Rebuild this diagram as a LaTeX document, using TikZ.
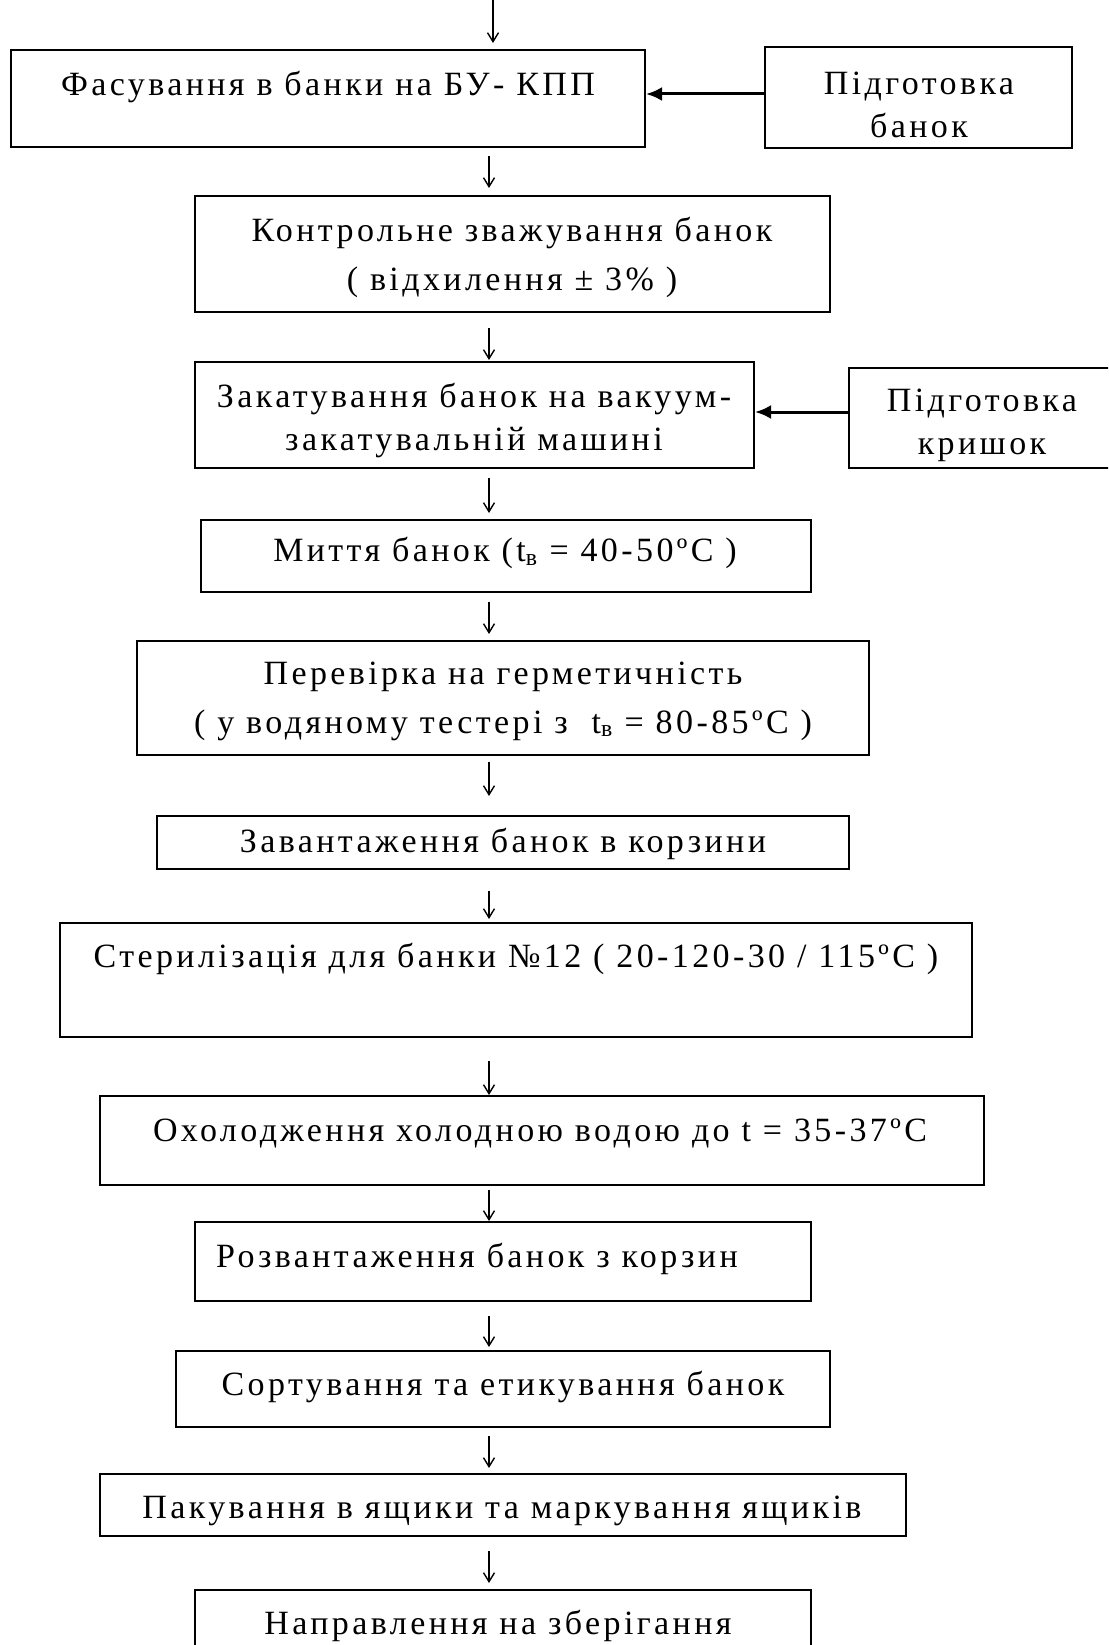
\documentclass[tikz,border=0pt]{standalone}
\usepackage{fontspec}
\setmainfont{Liberation Serif}[LetterSpace=10]
\usetikzlibrary{arrows.meta}

\tikzset{
  box/.style={draw,line width=2pt,inner sep=0pt},
  txt/.style={align=center,inner sep=0pt,font=\fontsize{34}{49}\selectfont},
  tight/.style={font=\fontsize{34}{43}\selectfont},
  flow/.style={-{Straight Barb[length=9pt,width=11pt]},line width=1.4pt},
  feed/.style={-{Latex[length=16pt,width=14pt]},line width=3pt}
}

\begin{document}
\begin{tikzpicture}[x=1pt,y=-1pt]
        \useasboundingbox (0,0) rectangle (1108,1645);
        \clip (0,0) rectangle (1108,1645);

        % main line
        \node[box,minimum width=634,minimum height=97] (b1) at (328,98.5) {};
        \node[box,minimum width=635,minimum height=116] (b2) at (512.5,254) {};
        \node[box,minimum width=559,minimum height=106] (b3) at (474.5,415) {};
        \node[box,minimum width=610,minimum height=72] (b4) at (506,556) {};
        \node[box,minimum width=732,minimum height=114] (b5) at (503,698) {};
        \node[box,minimum width=692,minimum height=53] (b6) at (503,842.5) {};
        \node[box,minimum width=912,minimum height=114] (b7) at (516,980) {};
        \node[box,minimum width=884,minimum height=89] (b8) at (542,1140.5) {};
        \node[box,minimum width=616,minimum height=79] (b9) at (503,1261.5) {};
        \node[box,minimum width=654,minimum height=76] (b10) at (503,1389) {};
        \node[box,minimum width=806,minimum height=62] (b11) at (503,1505) {};
        \node[box,minimum width=616,minimum height=110] (b12) at (503,1645) {};

        % side boxes
        \node[box,minimum width=307,minimum height=101] (sb1) at (918.5,97.5) {};
        \node[box,minimum width=271,minimum height=100] (sb2) at (984.5,418) {};

        \node[txt] (t1) at (328,87) {Фасування в банки на БУ- КПП};
        \node[txt,tight] (ts1) at (919,105) {Підготовка\\банок};
        \node[txt] (t2) at (512,257) {Контрольне зважування банок\\( відхилення ± 3\% )};
        \node[txt,tight] (t3) at (474,420) {Закатування банок на вакуум-\\закатувальній машині};
        \node[txt,tight] (ts2) at (982,425) {Підготовка\\кришок};
        \node[txt] (t4) at (505,553) {Миття банок (t\textsubscript{в} = 40-50ºC )};
        \node[txt] (t5) at (503,701) {Перевірка на герметичність\\( у водяному тестері з~ t\textsubscript{в} = 80-85ºC )};
        \node[txt] (t6) at (503,844) {Завантаження банок в корзини};
        \node[txt] (t7) at (516,959) {Стерилізація для банки №12 ( 20-120-30 / 115ºC )};
        \node[txt] (t8) at (540,1133) {Охолодження холодною водою до t = 35-37ºC};
        \node[txt] (t9) at (477,1259) {Розвантаження банок з корзин};
        \node[txt] (t10) at (503,1387) {Сортування та етикування банок};
        \node[txt] (t11) at (502,1511) {Пакування в ящики та маркування ящиків};
        \node[txt] (t12) at (498,1626) {Направлення на зберігання};

        % arrows
        \coordinate (in) at (493,0);
        \coordinate (ax) at (489,0);
        \draw[flow,shorten >=6pt] (in) -- (in |- b1.north);
        \foreach \a/\b/\s/\e in {b1/b2/8/7,b2/b3/15/1,b3/b4/9/6,b4/b5/9/6,b5/b6/6/19,
                                 b6/b7/21/3,b7/b8/23/0,b8/b9/4/0,b9/b10/14/3,b10/b11/8/5,b11/b12/14/6}
          \draw[flow,shorten <=\s pt,shorten >=\e pt] (ax |- \a.south) -- (ax |- \b.north);

        \draw[feed] ([yshift=3.5pt]sb1.west) -- ([yshift=3.5pt]sb1.west -| b1.east);
        \draw[feed] ([yshift=6pt]sb2.west) -- ([yshift=6pt]sb2.west -| b3.east);
    \end{tikzpicture}
\end{document}
